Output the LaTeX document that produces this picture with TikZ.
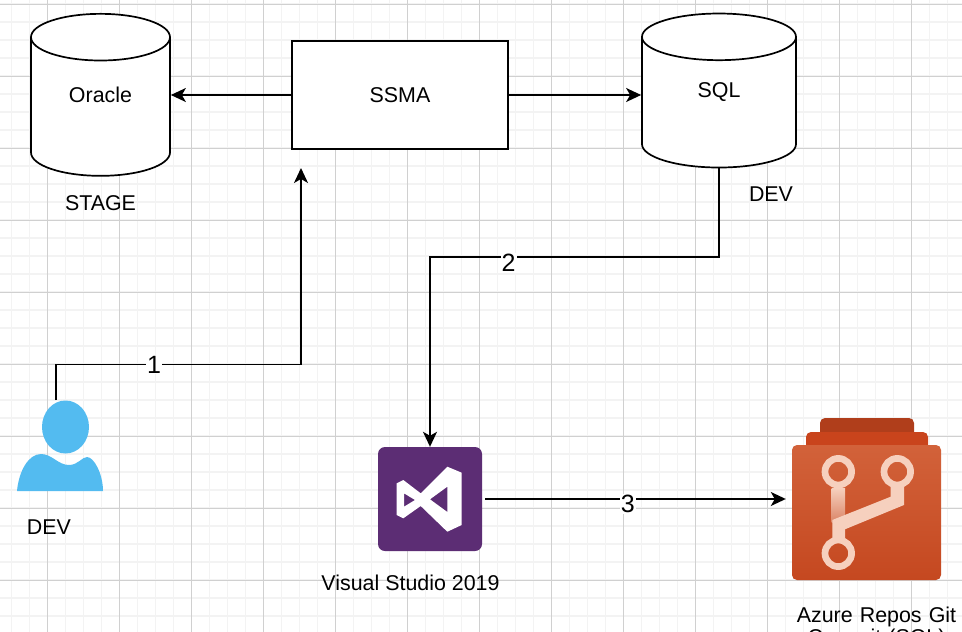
\documentclass[tikz,border=0pt]{standalone}
\usepackage{fontspec}
\setmainfont{Liberation Sans}
\usetikzlibrary{shapes.geometric,arrows.meta}
\definecolor{gridminor}{RGB}{243,243,243}
\definecolor{gridmajor}{RGB}{208,208,208}
\definecolor{userblue}{RGB}{83,187,240}
\definecolor{vspurple}{RGB}{92,45,116}
\definecolor{reposback}{RGB}{176,62,27}
\definecolor{reposmid}{RGB}{201,68,28}
\definecolor{repostop}{RGB}{210,98,58}
\definecolor{reposlow}{RGB}{197,72,32}
\definecolor{reposline}{RGB}{246,208,190}
\tikzset{
  >={Stealth[length=15pt,width=14pt,inset=4pt]},
  every node/.style={font=\fontsize{21.4}{22}\selectfont},
  link/.style={draw=black,line width=1.7pt},
  dbase/.style={draw=black,fill=white,line width=1.7pt,cylinder,shape border rotate=90,aspect=7},
  stepnum/.style={fill=white,inner sep=1pt,font=\fontsize{25}{25}\selectfont},
}
\begin{document}
\begin{tikzpicture}[x=1pt,y=1pt]
\useasboundingbox (0,-632) rectangle (962,0);
\clip (0,-632) rectangle (962,0);
\fill[white] (0,-632) rectangle (962,0);
% grid
\foreach \i in {0,...,53} {
  \draw[gridminor,line width=1.5pt] (11.5+18*\i,-632) -- (11.5+18*\i,0);
}
\foreach \i in {0,...,35} {
  \draw[gridminor,line width=1.5pt] (0,-4-18*\i) -- (962,-4-18*\i);
}
\foreach \i in {0,...,12} {
  \draw[gridmajor,line width=1pt] (47.5+72*\i,-632) -- (47.5+72*\i,0);
}
\foreach \i in {0,...,8} {
  \draw[gridmajor,line width=1pt] (0,-4-72*\i) -- (962,-4-72*\i);
}

\node[draw=black,fill=white,line width=1.7pt,minimum width=216pt,minimum height=108pt] (ssma) at (400,-95) {SSMA};
\node[dbase,minimum width=139pt,minimum height=162pt,left of=ssma,node distance=299.5pt,yshift=-15.5pt] (oracle) {};
\node[dbase,minimum width=154pt,minimum height=154pt,right of=ssma,node distance=319pt,yshift=-11pt] (sql) {};
\node[below of=oracle,node distance=0pt,yshift=15.5pt] (oraclelabel) {Oracle};
\node[below of=sql,node distance=0pt,yshift=14pt] (sqllabel) {SQL};
\node[below of=oracle,node distance=92.5pt] (stage) {STAGE};
\node[right of=sql,node distance=52pt,yshift=-88pt] (sqldev) {DEV};

% user icon
\node[minimum width=86pt,minimum height=91pt] (user) at (60,-446) {};
\coordinate (usertop) at (56,-400);
\fill[userblue] (user.center) ++(5.5,19) circle[x radius=23.5,y radius=26.5];
\fill[userblue] (17,-491) .. controls (19,-470) and (29,-454) .. (41,-454)
  .. controls (52,-454) and (58,-465) .. (69,-465)
  .. controls (78,-465) and (82,-457) .. (87,-457)
  .. controls (94,-457) and (103,-474) .. (103,-491) -- cycle;
\node[below of=user,node distance=81pt,xshift=-11pt] (userdev) {DEV};

% visual studio icon
\node[fill=vspurple,rounded corners=7pt,minimum size=104pt,inner sep=0pt] (vs) at (430,-499) {};
\fill[white,even odd rule] (447.3,-466.7) -- (461.7,-472.7) -- (461.7,-525) -- (447.3,-531.7)
  -- (420.7,-506) -- (403.3,-518.3) -- (396.7,-515) -- (396.7,-483.3) -- (403.3,-480)
  -- (420.7,-493.3) -- cycle
  (404,-493.3) -- (415,-500) -- (404,-506.7) -- cycle
  (447.3,-486.7) -- (430,-499.3) -- (447.3,-512) -- cycle;
\node[below of=vs,node distance=84pt,xshift=-19.5pt] (vslabel) {Visual Studio 2019};

% repos icon
\fill[reposback,rounded corners=5pt] (820,-445) rectangle (914,-418);
\fill[reposmid,rounded corners=5pt] (806,-460) rectangle (928,-432);
\node[rounded corners=5pt,top color=repostop,bottom color=reposlow,minimum width=149pt,minimum height=135pt,inner sep=0pt] (repos) at (866.5,-512.5) {};
\shade[top color=reposline,bottom color=reposlow!55!reposline] (831.7,-488) rectangle (845,-522);
\fill[reposline] (890.7,-487) -- (904,-487) -- (904,-505) -- (845,-529.3) -- (845,-540)
  -- (832.3,-540) -- (832.3,-520) -- (890.7,-496.7) -- cycle;
\draw[reposline,line width=6.7pt] (838.3,-471.7) circle[radius=13.3];
\draw[reposline,line width=6.7pt] (897.3,-471.7) circle[radius=13.3];
\draw[reposline,line width=6.7pt] (838.3,-553.3) circle[radius=13.3];
\node[below of=repos,node distance=115pt,xshift=10pt,align=center,text width=200pt] (reposlabel) {Azure Repos Git\\Commit (SQL)};

% connectors
\coordinate (ssmaentry) at (301,-168);
\coordinate (turn) at (430,-257);
\draw[->,link] (ssma) -- (oracle.east |- ssma);
\draw[->,link] (ssma) -- (sql.west |- ssma);
\draw[->,link] (usertop) |- node[stepnum,pos=0.7] (one) {1} (ssmaentry |- 0,-364.5) -- (ssmaentry);
\draw[->,link] (sql.south) |- node[stepnum,pos=0.864,yshift=-6pt] (two) {2} (turn) -- (vs.north);
\draw[->,link,shorten <=3pt,shorten >=6pt] (vs.east |- 0,-499) -- node[stepnum,pos=0.47,yshift=-5pt] (three) {3} (repos.west |- 0,-499);
\end{tikzpicture}
\end{document}
